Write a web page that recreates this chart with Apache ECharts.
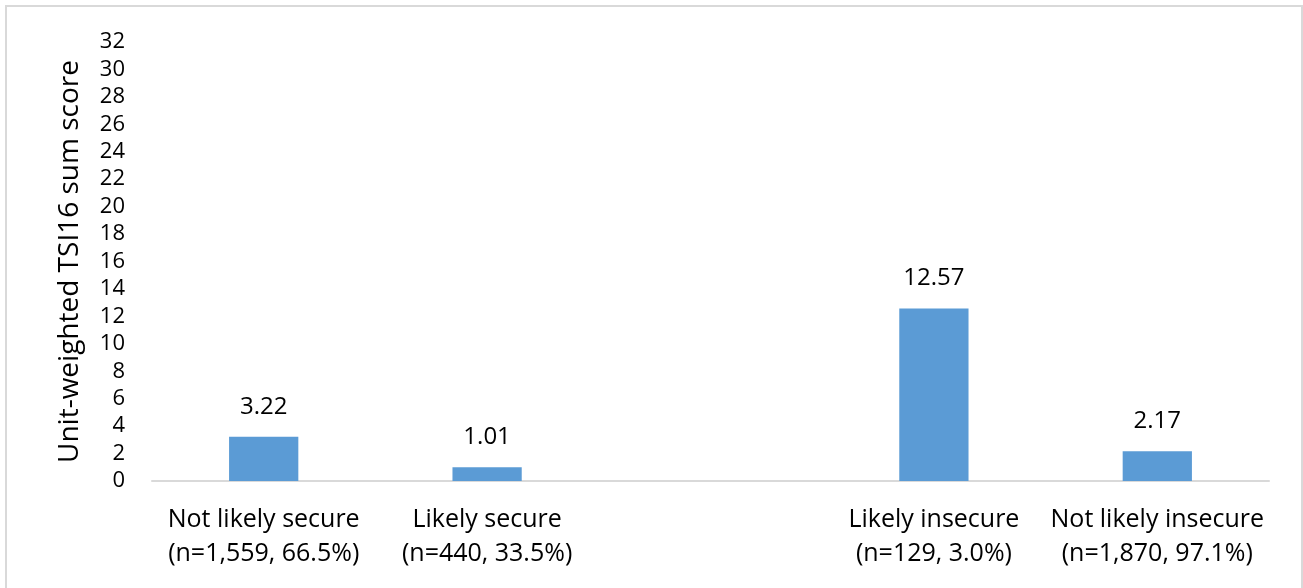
<!DOCTYPE html>
<html><head><meta charset="utf-8">
<script src="https://cdn.jsdelivr.net/npm/echarts@6/dist/echarts.min.js"></script>
<style>html,body{margin:0;padding:0;background:#fff}#c{width:1303px;height:588px}</style>
</head><body><div id="c"></div>
<script>
const categories = ["Not likely secure\n(n=1,559, 66.5%)", "Likely secure\n(n=440, 33.5%)", "", "Likely insecure\n(n=129, 3.0%)", "Not likely insecure\n(n=1,870, 97.1%)"];
const values = [3.22, 1.01, null, 12.57, 2.17];
const yTicks = {min: 0, max: 32, interval: 2};
const yName = "Unit-weighted TSI16 sum score";

const chart = echarts.init(document.getElementById('c'));
const font = '"Open Sans", Lato, sans-serif';
chart.setOption({
  animation: false,
  graphic: [{type: 'rect', shape: {x: 6, y: 6, width: 1296, height: 600}, style: {fill: 'none', stroke: '#d9d9d9', lineWidth: 2}}],
  grid: {left: 152, right: 34, top: 42, bottom: 107},
  xAxis: {
    type: 'category', data: categories,
    axisLine: {lineStyle: {color: '#d9d9d9', width: 2}},
    axisTick: {show: false},
    axisLabel: {color: '#000', fontSize: 25, fontFamily: font, lineHeight: 34, margin: 22, interval: 0}
  },
  yAxis: {
    type: 'value', min: yTicks.min, max: yTicks.max, interval: yTicks.interval,
    name: yName, nameLocation: 'middle', nameGap: 68, nameRotate: 90,
    nameTextStyle: {color: '#000', fontSize: 28, fontFamily: font},
    axisLine: {show: false}, axisTick: {show: false}, splitLine: {show: false},
    axisLabel: {color: '#000', fontSize: 22, fontFamily: font, margin: 27}
  },
  series: [{
    type: 'bar', data: values, barWidth: '31%',
    itemStyle: {color: '#5b9bd5'},
    label: {show: true, position: 'top', distance: 18, color: '#000', fontSize: 24, fontFamily: font,
      formatter: p => p.value == null ? '' : p.value.toFixed(2)}
  }]
});
</script></body></html>
